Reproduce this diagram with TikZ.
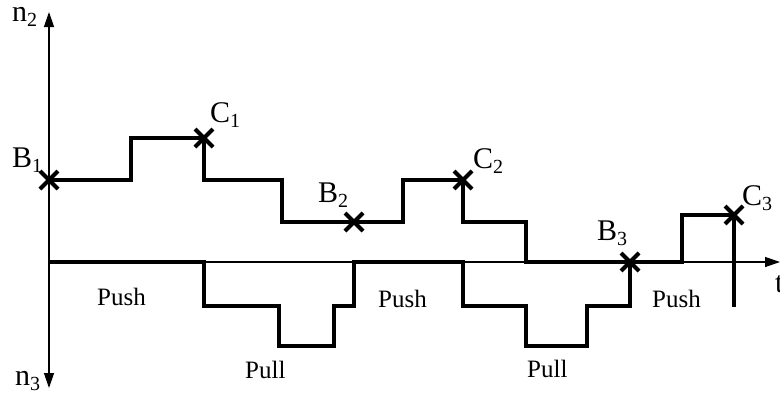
\documentclass[tikz,border=0pt]{standalone}
\usepackage{fontspec}
\setmainfont{Liberation Serif}
\usetikzlibrary{arrows.meta, shapes.misc}

\newcommand{\sublbl}[2]{#1\raisebox{-5pt}{\fontsize{20}{20}\selectfont #2}}

\tikzset{
  axis/.style={line width=1.3pt, -{Triangle[length=15pt, width=10pt]}},
  trace/.style={line width=4pt},
  crossmark/.style={cross out, draw, line width=4pt, minimum size=14pt, inner sep=0pt},
  lbl/.style={anchor=base west, inner sep=0pt, font=\fontsize{30}{36}\selectfont},
  phase/.style={anchor=base west, inner sep=0pt, font=\fontsize{25}{30}\selectfont}
}

\begin{document}
\begin{tikzpicture}[x=1pt, y=-1pt]
  \useasboundingbox (0,0) rectangle (780,399);

  % axes
  \coordinate (O) at (49,262);
  \draw[axis] (O) -- (49,12);
  \draw[axis] (O) -- (49,388);
  \draw[axis] (O) -- (780,262);
  \node[lbl] (n2) at (12,21) {\sublbl{n}{2}};
  \node[lbl] (n3) at (15,385) {\sublbl{n}{3}};
  \node[lbl] (t) at (775,292) {t};

  % lower queue (n3)
  \draw[trace] (O) -- (204,262) -- (204,306) -- (279,306) -- (279,346)
    -- (334,346) -- (334,306) -- (354,306) -- (354,262) -- (463,262)
    -- (463,306) -- (526,306) -- (526,346) -- (587,346) -- (587,306)
    -- (630,306) -- (630,262);

  % upper queue (n2)
  \draw[trace] (49,180) -- (131,180) -- (131,138) -- (204,138) -- (204,180)
    -- (282,180) -- (282,222) -- (403,222) -- (403,180) -- (463,180)
    -- (463,222) -- (526,222) -- (526,262) -- (682,262) -- (682,215)
    -- (734,215) -- (734,307);

  % switching points
  \node[crossmark] (B1) at (49,180) {};
  \node[crossmark] (C1) at (204,138) {};
  \node[crossmark] (B2) at (354,222) {};
  \node[crossmark] (C2) at (463,180) {};
  \node[crossmark] (B3) at (630,262) {};
  \node[crossmark] (C3) at (734,215) {};

  \node[lbl] (B1lbl) at (12,167) {\sublbl{B}{1}};
  \node[lbl] (C1lbl) at (210,122) {\sublbl{C}{1}};
  \node[lbl] (B2lbl) at (318,202) {\sublbl{B}{2}};
  \node[lbl] (C2lbl) at (473,168) {\sublbl{C}{2}};
  \node[lbl] (B3lbl) at (597,240) {\sublbl{B}{3}};
  \node[lbl] (C3lbl) at (742,205) {\sublbl{C}{3}};

  % phases
  \node[phase] (push1) at (97,305) {Push};
  \node[phase] (pull1) at (245,378) {Pull};
  \node[phase] (push2) at (378,307) {Push};
  \node[phase] (pull2) at (527,377) {Pull};
  \node[phase] (push3) at (652,307) {Push};
\end{tikzpicture}
\end{document}
